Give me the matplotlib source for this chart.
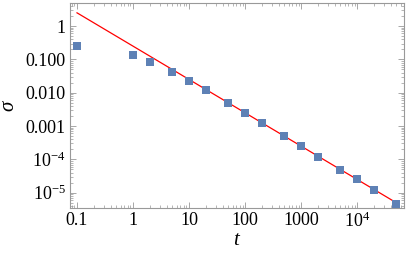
import matplotlib
matplotlib.use("Agg")
import matplotlib.pyplot as plt
from matplotlib.ticker import FixedLocator, FixedFormatter, LogLocator, NullFormatter

t = [0.1, 1, 2, 5, 10, 20, 50, 100, 200, 500, 1000, 2000, 5000, 10000, 20000, 50000]
sigma = [0.25, 0.135, 0.083, 0.042, 0.022, 0.012, 0.005, 0.0025, 0.00125,
         5.1e-4, 2.6e-4, 1.2e-4, 4.9e-5, 2.5e-5, 1.2e-5, 4.7e-6]
fit_t = [0.1, 50000]
fit_sigma = [2.5, 5e-6]

xticks = [0.1, 1, 10, 100, 1000, 1e4]
xticklabels = ["0.1", "1", "10", "100", "1000", r"$10^4$"]
yticks = [1, 0.1, 0.01, 0.001, 1e-4, 1e-5]
yticklabels = ["1", "0.100", "0.010", "0.001", r"$10^{-4}$", r"$10^{-5}$"]

plt.rcParams['font.family'] = ['Liberation Serif', 'DejaVu Serif']
plt.rcParams['mathtext.fontset'] = 'custom'
plt.rcParams['mathtext.rm'] = 'Liberation Serif'
plt.rcParams['mathtext.it'] = 'Liberation Serif:italic'

fig = plt.figure(figsize=(4.07, 2.57), dpi=100)
ax = fig.add_axes([0.172, 0.191, 0.821, 0.797])
ax.set_xscale('log')
ax.set_yscale('log')
ax.plot(fit_t, fit_sigma, color='#ff0000', lw=0.9, zorder=2)
ax.scatter(t, sigma, marker='s', s=32, color='#5e81b5', zorder=3, linewidths=0)
ax.set_xlim(0.075, 69000)
ax.set_ylim(3.5e-6, 4.9)

ax.xaxis.set_major_locator(FixedLocator(xticks))
ax.xaxis.set_major_formatter(FixedFormatter(xticklabels))
ax.yaxis.set_major_locator(FixedLocator(yticks))
ax.yaxis.set_major_formatter(FixedFormatter(yticklabels))
ax.xaxis.set_minor_locator(LogLocator(base=10, subs=range(2, 10), numticks=20))
ax.yaxis.set_minor_locator(LogLocator(base=10, subs=range(2, 10), numticks=20))
ax.xaxis.set_minor_formatter(NullFormatter())
ax.yaxis.set_minor_formatter(NullFormatter())

for s in ax.spines.values():
    s.set_color('#999999')
    s.set_linewidth(0.8)
ax.tick_params(which='both', direction='in', top=True, right=True, color='#999999',
               labelsize=13, pad=3)
ax.tick_params(which='major', length=4, width=0.6)
ax.tick_params(which='minor', length=2, width=0.5)

ax.set_xlabel(r"$t$", fontsize=15, labelpad=0)
ax.set_ylabel(r"$\sigma$", fontsize=15, labelpad=5)

fig.savefig("out.png", dpi=100)
